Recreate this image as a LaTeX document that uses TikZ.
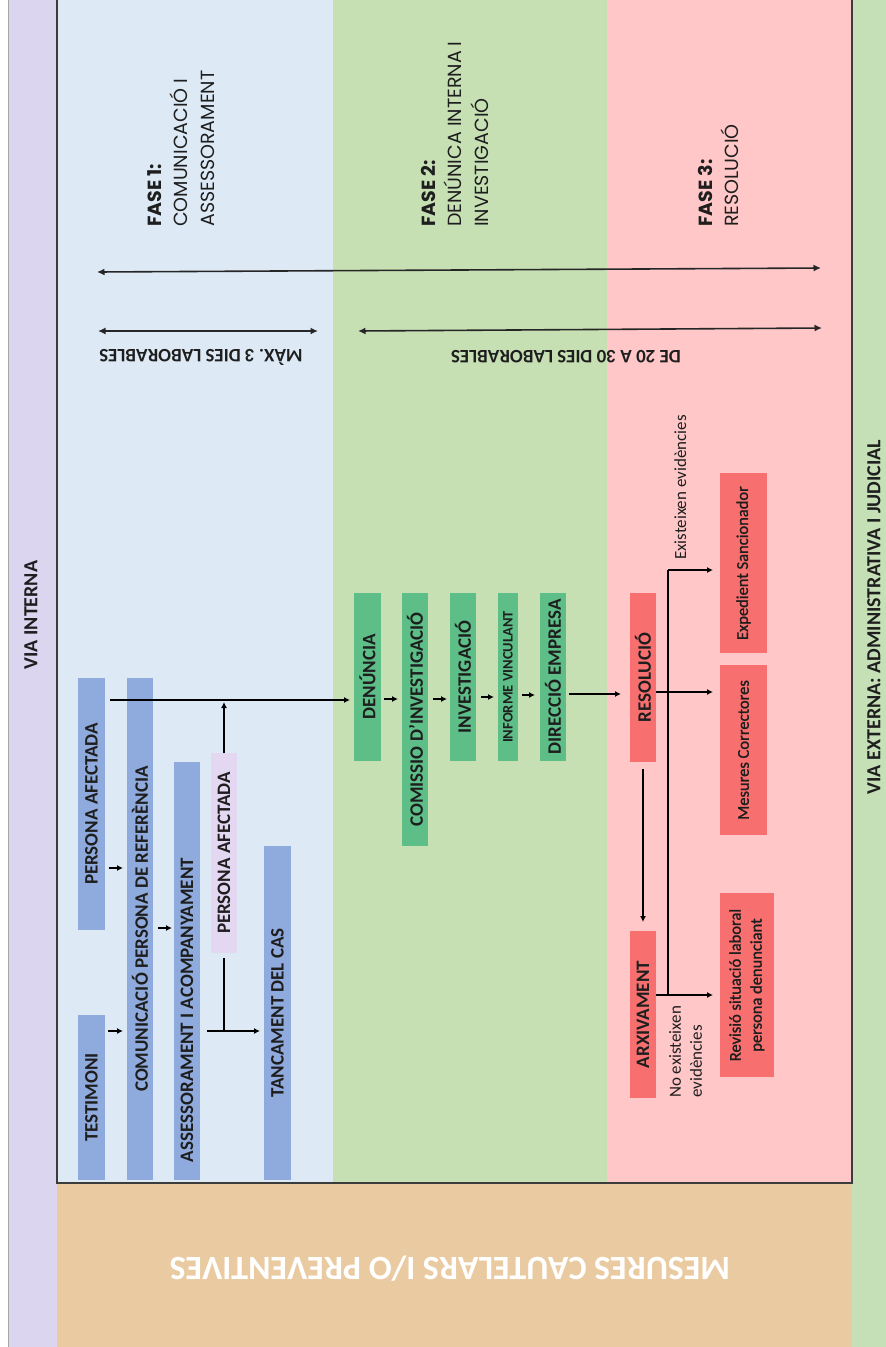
\documentclass[tikz,border=0pt]{standalone}
\usepackage{fontspec}
\usepackage{graphicx}
\usetikzlibrary{arrows.meta}
\setmainfont{Carlito}
\newfontfamily\hdrfont{Poppins}
\newfontfamily\semib{Carlito}[FakeBold=1.2]
\definecolor{viaL}{HTML}{DCD5F0}
\definecolor{viaR}{HTML}{C5DFB6}
\definecolor{bandB}{HTML}{DDEAF6}
\definecolor{bandG}{HTML}{C6E0B4}
\definecolor{bandP}{HTML}{FFC7C7}
\definecolor{bandO}{HTML}{EACBA1}
\definecolor{boxB}{HTML}{8FAADC}
\definecolor{boxL}{HTML}{E4D7F2}
\definecolor{boxG}{HTML}{5DBE88}
\definecolor{boxR}{HTML}{F86F6F}
\definecolor{frameC}{HTML}{3C3C3C}
\definecolor{txt}{HTML}{1E1E1E}
\newcommand{\vtext}[1]{\rotatebox{90}{#1}}
\tikzset{
  box/.style={inner sep=0pt, outer sep=0pt, draw=none, text=txt, font=\bfseries\fontsize{19}{19}\selectfont},
  bbox/.style={box, fill=boxB},
  lbox/.style={box, fill=boxL},
  gbox/.style={box, fill=boxG},
  rbox/.style={box, fill=boxR},
  rtxt/.style={box, fill=boxR, font=\semib\fontsize{16.5}{21}\selectfont},
  arr/.style={-{Latex[length=6pt,width=6pt]}, line width=1.2pt, black},
  ln/.style={line width=1.2pt, black},
  darr/.style={{Latex[length=7.5pt,width=7pt]}-{Latex[length=7.5pt,width=7pt]}, line width=1.6pt, black!85},
  hdr/.style={inner sep=0pt, anchor=north west, rotate=90, align=left, text=txt, font=\hdrfont\fontsize{19}{26.5}\selectfont},
  lbl/.style={inner sep=0pt, text=txt, font=\bfseries\fontsize{19}{19}\selectfont, rotate=180},
  via/.style={inner sep=0pt, text=txt, font=\bfseries\fontsize{20}{20}\selectfont, rotate=90},
  note/.style={inner sep=0pt, text=txt, font=\fontsize{17}{21}\selectfont, rotate=90, anchor=north west, align=left}
}
\begin{document}
\begin{tikzpicture}[x=1pt,y=-1pt]
\useasboundingbox (0,0) rectangle (886,1347);
% background strips
\fill[white] (0,0) rectangle (886,1347);
\fill[viaL] (8,0) rectangle (57,1347);
\fill[viaR] (852,0) rectangle (886,1347);
\fill[bandO] (57,1183) rectangle (852,1347);
\fill[bandB] (57,0) rectangle (333,1183);
\fill[bandG] (333,0) rectangle (607,1183);
\fill[bandP] (607,0) rectangle (852,1183);
\draw[gray!70, line width=0.8pt] (8,0) -- (8,1347);
\draw[frameC, line width=1.5pt] (57,-2) -- (57,1183) -- (852,1183) -- (852,-2);

% side labels
\node[via] (vi) at (31,615) {VIA INTERNA};
\node[via] (ve) at (874,617) {VIA EXTERNA: ADMINISTRATIVA I JUDICIAL};
\node[inner sep=0pt, rotate=180, text=white, font=\bfseries\fontsize{34}{34}\selectfont] (mc) at (450,1269) {MESURES CAUTELARS I/O PREVENTIVES};

% phase headers
\node[hdr] (f1) at (147,227) {\textbf{FASE 1:}\\COMUNICACIÓ I\\ASSESSORAMENT};
\node[hdr] (f2) at (421,227) {\textbf{FASE 2:}\\DENÚNICA INTERNA I\\INVESTIGACIÓ};
\node[hdr] (f3) at (698,227) {\textbf{FASE 3:}\\RESOLUCIÓ};

% time spans
\coordinate (ta1) at (97,272); \coordinate (ta2) at (821,268);
\draw[darr] (ta1) -- (ta2);
\coordinate (tb1) at (98,331); \coordinate (tb2) at (318,331);
\draw[darr] (tb1) -- (tb2);
\coordinate (tc1) at (358,331); \coordinate (tc2) at (822,328);
\draw[darr] (tc1) -- (tc2);
\node[lbl] (l1) at (201,357) {MÀX. 3 DIES LABORABLES};
\node[lbl] (l2) at (566,357) {DE 20 A 30 DIES LABORABLES};

% phase 1 boxes
\node[bbox, minimum width=27pt, minimum height=252pt] (pa1) at (91.5,804) {\vtext{PERSONA AFECTADA}};
\node[bbox, minimum width=27pt, minimum height=165pt] (tes) at (91.5,1097.5) {\vtext{TESTIMONI}};
\node[bbox, minimum width=26pt, minimum height=502pt] (com) at (140,929) {\vtext{COMUNICACIÓ PERSONA DE REFERÈNCIA}};
\node[bbox, minimum width=26pt, minimum height=418pt] (ass) at (187,971) {\vtext{ASSESSORAMENT I ACOMPANYAMENT\hspace*{78pt}}};
\node[lbox, minimum width=26pt, minimum height=200pt] (pa2) at (224,853) {\vtext{PERSONA AFECTADA}};
\node[bbox, minimum width=27pt, minimum height=334pt] (tan) at (277.5,1013) {\vtext{TANCAMENT DEL CAS}};

% phase 2 boxes
\node[gbox, minimum width=27pt, minimum height=168pt] (den) at (367.5,677) {\vtext{DENÚNCIA}};
\node[gbox, minimum width=26pt, minimum height=253pt] (cmi) at (415,719.5) {\vtext{COMISSIO D'INVESTIGACIÓ}};
\node[gbox, minimum width=26pt, minimum height=168pt] (inv) at (463,677) {\vtext{INVESTIGACIÓ}};
\node[gbox, minimum width=20pt, minimum height=168pt, font=\bfseries\fontsize{14.5}{14.5}\selectfont] (inf) at (508,677) {\vtext{INFORME VINCULANT}};
\node[gbox, minimum width=26pt, minimum height=168pt] (dir) at (553,677) {\vtext{DIRECCIÓ EMPRESA}};

% phase 3 boxes
\node[rbox, minimum width=26pt, minimum height=169pt] (res) at (643,677.5) {\vtext{RESOLUCIÓ}};
\node[rbox, minimum width=26pt, minimum height=167pt] (arx) at (643,1014.5) {\vtext{ARXIVAMENT}};
\node[rtxt, minimum width=47pt, minimum height=180pt] (exp) at (743.5,563) {\vtext{Expedient Sancionador}};
\node[rtxt, minimum width=47pt, minimum height=170pt] (mes) at (743.5,750) {\vtext{Mesures Correctores}};
\node[rtxt, minimum width=54pt, minimum height=184pt] (rev) at (747,985) {\vtext{\begin{tabular}{@{}c@{}}Revisió situació laboral\\persona denunciant\end{tabular}}};

% notes
\node[note] (n1) at (674,560) {Existeixen evidències};
\node[note] (n2) at (669,1098) {No existeixen\\evidències};

% helper levels
\coordinate (y868) at (0,868);
\coordinate (y1031) at (0,1031);
\coordinate (y928) at (0,928);
\coordinate (y700) at (0,700);
\coordinate (y699) at (0,699);
\coordinate (y697) at (0,697);
\coordinate (y695) at (0,695);
\coordinate (y694) at (0,694);
\coordinate (y692) at (0,692);
\coordinate (j1) at (224,700);
\coordinate (j2) at (224,1031);
\coordinate (v1) at (668,570);
\coordinate (v2) at (668,995);

% phase 1 connectors
\draw[arr, shorten <=4pt, shorten >=4pt] (pa1.east |- y868) -- (com.west |- y868);
\draw[arr, shorten <=3pt, shorten >=4pt] (tes.east |- y1031) -- (com.west |- y1031);
\draw[arr, shorten <=5pt, shorten >=2pt] (com.east |- y928) -- (ass.west |- y928);
\draw[arr, shorten <=5pt, shorten >=4pt] (pa1.east |- y700) -- (den.west |- y700);
\draw[arr, shorten >=2pt] (pa2.north) -- (j1);
\draw[arr, shorten <=7pt, shorten >=4pt] (ass.east |- y1031) -- (tan.west |- y1031);
\draw[ln, shorten <=5pt] (pa2.south) -- (j2);

% phase 2 connectors
\draw[arr, shorten <=3pt, shorten >=4pt] (den.east |- y699) -- (cmi.west |- y699);
\draw[arr, shorten <=5pt, shorten >=3pt] (cmi.east |- y699) -- (inv.west |- y699);
\draw[arr, shorten <=5pt, shorten >=4pt] (inv.east |- y697) -- (inf.west |- y697);
\draw[arr, shorten <=4pt, shorten >=5pt] (inf.east |- y695) -- (dir.west |- y695);
\draw[arr, shorten <=3pt, shorten >=9pt] (dir.east |- y694) -- (res.west |- y694);

% phase 3 connectors
\draw[arr, shorten >=7pt] (res.east |- y692) -- (mes.west |- y692);
\draw[arr, shorten <=7pt, shorten >=9pt] (res.south) -- (arx.north);
\draw[ln] (v1) -- (v2);
\draw[arr, shorten >=7pt] (v1) -- (exp.west |- v1);
\draw[arr, shorten >=7pt] (arx.east |- v2) -- (rev.west |- v2);
\end{tikzpicture}
\end{document}
